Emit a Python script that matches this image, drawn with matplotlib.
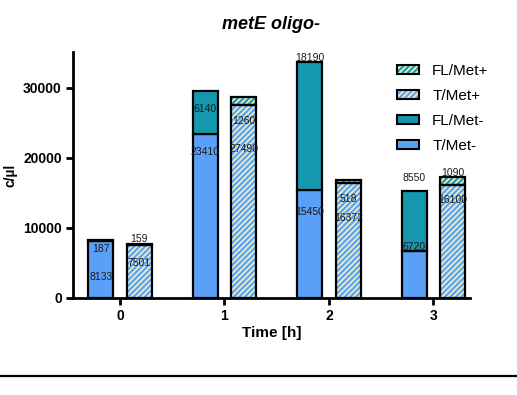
import matplotlib
matplotlib.use("Agg")
import matplotlib.pyplot as plt
import numpy as np
from matplotlib.patches import Patch
from matplotlib.lines import Line2D

plt.rcParams['font.family'] = ['Liberation Sans', 'DejaVu Sans']

times = ["0", "1", "2", "3"]
t_met_minus = [8133, 23410, 15450, 6720]
fl_met_minus = [187, 6140, 18190, 8550]
t_met_plus = [7501, 27490, 16372, 16100]
fl_met_plus = [159, 1260, 518, 1090]

# label vertical placements (data units) as in the reference
lab_t_minus_y = [3000, 20770, 12290, 7290]
lab_fl_minus_y = [6960, 26940, 34200, 17060]
lab_t_plus_y = [5000, 21240, 11430, 13960]
lab_fl_plus_y = [8430, 25240, 14100, 17770]

c_t = "#5aa0f8"
c_fl = "#1597ae"
c_hatch = "#e6efc4"
hatch = "//////"

plt.rcParams['hatch.linewidth'] = 1.3

fig = plt.figure(figsize=(5.17, 3.95), dpi=100)
ax = fig.add_axes([0.1412, 0.2463, 0.909 - 0.1412, 0.868 - 0.2463])

x = np.arange(len(times))
off = 0.185
w = 0.24
lw = 1.6

# Met- bars
ax.bar(x - off, t_met_minus, w, color=c_t, edgecolor="black", linewidth=lw, zorder=2)
ax.bar(x - off, fl_met_minus, w, bottom=t_met_minus, color=c_fl, edgecolor="black", linewidth=lw, zorder=2)

# Met+ bars (hatched)
ax.bar(x + off, t_met_plus, w, color=c_t, edgecolor=c_hatch, hatch=hatch, linewidth=0, zorder=2)
ax.bar(x + off, t_met_plus, w, fill=False, edgecolor="black", linewidth=lw, zorder=3)
ax.bar(x + off, fl_met_plus, w, bottom=t_met_plus, color=c_fl, edgecolor=c_hatch, hatch=hatch, linewidth=0, zorder=2)
ax.bar(x + off, fl_met_plus, w, bottom=t_met_plus, fill=False, edgecolor="black", linewidth=lw, zorder=3)

tk = dict(ha="center", va="center", fontsize=7.5, color="#1a1a1a", zorder=5)
for i in range(len(times)):
    ax.text(x[i] - off, lab_t_minus_y[i], str(t_met_minus[i]), **tk)
    ax.text(x[i] - off, lab_fl_minus_y[i], str(fl_met_minus[i]), **tk)
    ax.text(x[i] + off, lab_t_plus_y[i], str(t_met_plus[i]), **tk)
    ax.text(x[i] + off, lab_fl_plus_y[i], str(fl_met_plus[i]), **tk)

ax.set_xlim(-0.45, 3.35)
ax.set_ylim(0, 35100)
ax.set_yticks([0, 10000, 20000, 30000])
ax.set_xticks(x)
ax.set_xticklabels(times)
for s in ["top", "right"]:
    ax.spines[s].set_visible(False)
for s in ["left", "bottom"]:
    ax.spines[s].set_linewidth(2)
ax.tick_params(axis="both", width=2, length=5, labelsize=10, pad=3)
for lab in ax.get_xticklabels() + ax.get_yticklabels():
    lab.set_fontweight("bold")
ax.set_xlabel("Time [h]", fontsize=11, fontweight="bold", labelpad=2)
ax.set_ylabel("c/µl", fontsize=10, fontweight="bold", labelpad=4)
ax.set_title("metE oligo-", fontsize=13, fontweight="bold", style="italic", pad=17)

def hp(fc):
    return (Patch(facecolor=fc, edgecolor=c_hatch, hatch=hatch, linewidth=0),
            Patch(fill=False, edgecolor="black", linewidth=1.5))

handles = [
    hp(c_fl),
    hp(c_t),
    Patch(facecolor=c_fl, edgecolor="black", linewidth=1.5),
    Patch(facecolor=c_t, edgecolor="black", linewidth=1.5),
]
labels = ["FL/Met+", "T/Met+", "FL/Met-", "T/Met-"]
leg = ax.legend(handles, labels, loc="upper left", bbox_to_anchor=(397 / 517, 1 - 64 / 395),
                bbox_transform=fig.transFigure, frameon=False, fontsize=11,
                handlelength=1.45, handleheight=0.6, labelspacing=0.72, handletextpad=0.85,
                borderaxespad=0, borderpad=0)

fig.add_artist(Line2D([0, 1], [1 - 376 / 395, 1 - 376 / 395], color="black", linewidth=1.6,
                      transform=fig.transFigure))

fig.savefig("out.png", dpi=100)
